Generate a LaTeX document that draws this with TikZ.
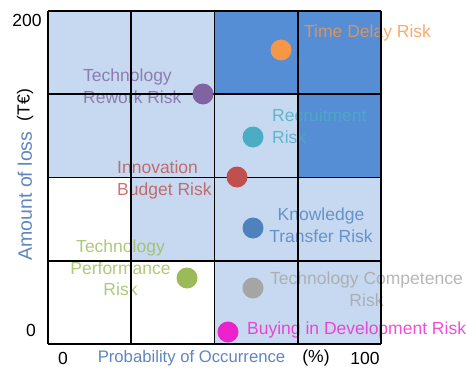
\documentclass[tikz,border=0pt]{standalone}
\usepackage{fontspec}
\setmainfont{Liberation Sans}
\definecolor{cellLight}{HTML}{C6D9F1}
\definecolor{cellDark}{HTML}{558ED5}
\definecolor{axisBlue}{HTML}{5F86BF}
\definecolor{riskOrange}{HTML}{F79646}
\definecolor{riskPurple}{HTML}{8064A2}
\definecolor{riskTeal}{HTML}{4BACC6}
\definecolor{riskRed}{HTML}{C0504D}
\definecolor{riskBlue}{HTML}{4F81BD}
\definecolor{riskGreen}{HTML}{9BBB59}
\definecolor{riskGrey}{HTML}{A5A5A5}
\definecolor{riskMagenta}{HTML}{EE22CC}
\tikzset{
	risk/.style={circle, minimum size=21pt, inner sep=0pt, fill=#1},
	risklabel/.style={text=#1, text opacity=0.8, font=\fontsize{17.5}{21.5}\selectfont, inner sep=0pt},
	axistext/.style={font=\fontsize{17.5}{21}\selectfont, inner sep=0pt}
}
\begin{document}
\begin{tikzpicture}[x=1pt,y=-1pt]
	\useasboundingbox (0,0) rectangle (466,369);
	%cells
	\foreach \c/\r in {0/0,1/0,0/1,1/1,2/1,1/2,2/2,3/2,2/3,3/3} {
		\fill[cellLight] (48+83.25*\c,11+83.25*\r) rectangle +(83.25,83.25);
	}
	\foreach \c/\r in {2/0,3/0,3/1} {
		\fill[cellDark] (48+83.25*\c,11+83.25*\r) rectangle +(83.25,83.25);
	}
	%labels
	\node (timedelaylabel) at (304,33) [risklabel=riskOrange, anchor=west] {Time Delay Risk};
	\node (reworklabel) at (83,86) [risklabel=riskPurple, anchor=west, align=left] {Technology\\Rework Risk};
	\node (recruitlabel) at (272,126) [risklabel=riskTeal, anchor=west, align=left] {Recruitment\\Risk};
	\node (budgetlabel) at (117,180) [risklabel=riskRed, anchor=west, align=left] {Innovation\\Budget Risk};
	\node (knowledgelabel) at (321,225) [risklabel=riskBlue, align=center] {Knowledge\\Transfer Risk};
	\node (performancelabel) at (120.5,268) [risklabel=riskGreen, align=center] {Technology\\Performance\\Risk};
	\node (competencelabel) at (366.5,289) [risklabel=riskGrey, align=center] {Technology Competence\\Risk};
	\node (buyinglabel) at (247,330) [risklabel=riskMagenta, anchor=west] {Buying in Development Risk};
	%grid
	\foreach \i in {0,...,4} {
		\draw[line width=1.8pt] (48+83.25*\i,11) -- (48+83.25*\i,344);
		\draw[line width=1.8pt] (48,11+83.25*\i) -- (381,11+83.25*\i);
	}
	%risks
	\node (timedelay) at (281,50) [risk=riskOrange] {};
	\node (rework) at (203,94) [risk=riskPurple] {};
	\node (recruit) at (253,137) [risk=riskTeal] {};
	\node (budget) at (237,177) [risk=riskRed] {};
	\node (knowledge) at (253,228) [risk=riskBlue] {};
	\node (performance) at (187,278) [risk=riskGreen] {};
	\node (competence) at (253,288) [risk=riskGrey] {};
	\node (buying) at (228,332) [risk=riskMagenta] {};
	%axis
	\node (ymax) at (27,20) [axistext] {200};
	\node (ymin) at (31,330) [axistext] {0};
	\node (xmin) at (63,358) [axistext] {0};
	\node (xname) at (191.5,358) [axistext, text=axisBlue, font=\fontsize{16.7}{20}\selectfont] {Probability of Occurrence};
	\node (xunit) at (316,358) [axistext] {(\%)};
	\node (xmax) at (365,358) [axistext] {100};
	\node (yname) at (25,196) [axistext, text=axisBlue, rotate=90, font=\fontsize{19.5}{22}\selectfont] {Amount of loss};
	\node (yunit) at (25,105) [axistext, rotate=90] {(T€)};
\end{tikzpicture}
\end{document}
